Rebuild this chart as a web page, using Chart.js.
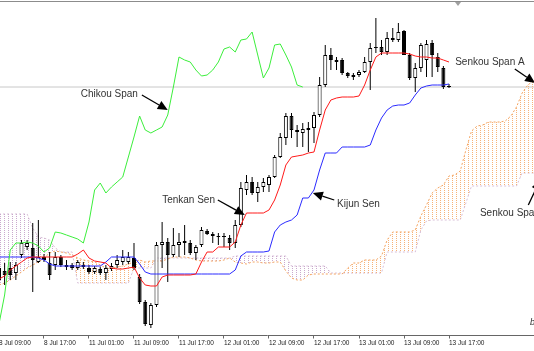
<!DOCTYPE html>
<html lang="en">
<head>
<meta charset="utf-8">
<title>Ichimoku</title>
<script src="https://cdn.jsdelivr.net/npm/chart.js@4.4.1/dist/chart.umd.min.js"></script>
<style>
  html, body { margin: 0; padding: 0; background: #ffffff; overflow: hidden; }
  #caixa { position: relative; width: 534px; height: 351px; }
</style>
</head>
<body>
<div id="caixa"><canvas id="grafico" width="534" height="351" style="width:534px;height:351px"></canvas></div>
<script>
// hourly bars, bar 0 = 8 Jul 09:00, values in points
const tickBars = [0, 8, 16, 24, 32, 40, 48, 56, 64, 72, 80];
const tickLabels = ['8 Jul 09:00', '8 Jul 17:00', '11 Jul 01:00', '11 Jul 09:00', '11 Jul 17:00',
  '12 Jul 01:00', '12 Jul 09:00', '12 Jul 17:00', '13 Jul 01:00', '13 Jul 09:00', '13 Jul 17:00'];

const open = [120,129,132,127,145,153,152,138,143,137, 135,143,135,135,132,133,132,128,131,127,
  131,135,138,138,142,123,98,75,95,155, 158,145,155,159,157,147,155,169,164,163,
  164,162,157,175,210,218,207,213,215,223, 243,262,284,270,267,272,272,285,315,345,
  338,340,327,325,325,328,338,352,353,348, 362,360,369,345,322,332,340,357,343,332,314];
const high = [138,137,138,138,160,160,177,180,146,148, 148,145,140,137,140,138,135,134,133,135,
  137,145,150,148,157,126,100,97,158,178, 162,172,167,175,160,155,173,171,168,167,
  167,165,180,218,225,223,218,222,225,245, 267,287,287,275,277,278,288,323,355,352,
  343,342,328,327,330,343,357,382,360,368, 372,377,370,347,337,357,360,360,347,334,316];
const low = [113,115,120,120,142,150,108,137,138,120, 130,133,130,130,130,131,126,126,125,120,
  129,132,135,136,130,96,74,72,93,132, 118,143,143,145,145,140,153,165,157,155,
  153,150,152,173,205,205,198,208,208,222, 242,255,262,253,253,248,257,283,313,330,
  330,325,322,320,323,327,310,347,345,345, 358,358,345,320,308,328,323,323,328,311,312];
const close = [132,125,125,135,157,157,140,143,140,125, 143,135,133,132,138,135,128,132,127,132,
  134,140,143,143,132,98,76,95,155,158, 145,155,158,157,147,153,170,166,166,164,
  163,157,175,212,218,207,213,218,223,243, 263,284,270,268,271,270,285,315,345,340,
  340,327,324,323,328,338,352,353,348,362, 360,368,345,322,332,355,356,345,333,313,313];

const tenkan = [121,124,130,134,138,142,143,143,143,143, 143,143,143,143,146,150,142,139,138,137,
  132,131,131,132,133,122,115,114,114,123, 125,125,125,125,125,126,138,148,148,153,
  153,153,158,175,187,187,187,187,190,200, 215,235,243,244,245,247,248,270,290,300,
  302,303,303,303,304,315,330,343,347,347, 347,347,347,346,344,343,343,342,342,340,338];
const kijun = [143,143,143,143,143,143,143,142,140,136, 134,134,134,134,134,134,134,134,134,138,
  143,143,143,143,143,136,128,126,126,126, 126,126,126,126,126,126,126,126,126,126,
  126,126,130,144,148,148,148,148,149,168, 175,178,180,185,202,202,210,230,247,247,
  247,253,253,253,253,253,255,270,282,290, 294,295,295,297,305,312,314,315,315,315,316];
// lagging span, plotted 26 bars back
const chikou = [76,105,150,157,157,158,157,154,148,152, 168,167,165,163,161,157,178,210,217,207,
  213,218,223,243,263,284,270,267,270,273, 285,313,343,340,338,330,324,325,330,338,
  351,353,348,360,361,368,345,322,332,355, 356,345,333,315,313];
// leading spans, plotted 26 bars ahead
const spanA = [115,117,120,124,128,132,135,138,142,147, 149,148,147,145,142,140,139,138,135,132,
  132,133,134,136,138,140,138,139,139,139, 141,143,143,143,142,140,139,139,139,139,
  140,142,138,137,136,138,138,137,137,138, 138,129,122,120,120,125,126,126,126,126,
  126,126,132,137,137,140,140,140,144,160, 168,168,168,168,170,184,195,207,212,215,
  224,225,229,250,269,274,275,278,278,278, 279,284,293,307,315,319,321];
const spanB = [186,186,186,186,186,186,172,163,162,160, 152,148,148,148,117,117,117,117,117,117,
  117,117,117,117,132,132,132,132,142,142, 142,142,142,142,142,142,142,142,142,142,
  142,142,144,144,144,144,144,144,144,144, 144,144,134,134,134,134,134,134,134,127,
  127,127,127,127,127,127,127,127,127,148, 148,148,148,148,148,170,179,180,180,180,
  180,180,180,197,214,214,214,214,214,214, 214,214,214,227,227,227,227];

const notes = [
  { text: 'Chikou Span', at: [24.7, 306], align: 'right', from: [25.4, 305], to: [30.0, 290] },
  { text: 'Tenkan Sen', at: [38.4, 200], align: 'right', from: [38.9, 200], to: [43.7, 185] },
  { text: 'Kijun Sen', at: [60.1, 196], align: 'left', from: [59.6, 200], to: [55.8, 207] },
  { text: 'Senkou Span A', at: [81.1, 338], align: 'left', from: [91.7, 331], to: [95.3, 317] },
  { text: 'Senkou Span B', at: [85.5, 187], align: 'left', from: [94.1, 195], to: [96.2, 220] }
];

const orange = 'rgb(244,164,96)';
const thistle = 'rgb(216,191,216)';

function hatch(color) {
  const c = document.createElement('canvas');
  c.width = 4;
  c.height = 2;
  const g = c.getContext('2d');
  g.fillStyle = color;
  g.fillRect(0, 0, 1, 1);
  return g.createPattern(c, 'repeat');
}

const pts = arr => arr.map((v, i) => ({ x: i, y: v }));

function arrow(ctx, x1, y1, x2, y2) {
  const ang = Math.atan2(y2 - y1, x2 - x1);
  const len = 10, half = 4.5;
  const bx = x2 - Math.cos(ang) * len, by = y2 - Math.sin(ang) * len;
  ctx.beginPath();
  ctx.moveTo(x1, y1);
  ctx.lineTo(bx, by);
  ctx.stroke();
  ctx.beginPath();
  ctx.moveTo(x2, y2);
  ctx.lineTo(bx + Math.sin(ang) * half, by - Math.cos(ang) * half);
  ctx.lineTo(bx - Math.sin(ang) * half, by + Math.cos(ang) * half);
  ctx.closePath();
  ctx.fill();
}

const extras = {
  id: 'extras',
  beforeDatasetsDraw(chart) {
    const { ctx, chartArea: a, scales: { x } } = chart;
    ctx.save();
    ctx.strokeStyle = '#8c8c8c';
    ctx.lineWidth = 1;
    ctx.beginPath();
    ctx.moveTo(a.left, a.top + 0.5);
    ctx.lineTo(a.right, a.top + 0.5);
    ctx.stroke();
    const sx = x.getPixelForValue(81.6);
    ctx.fillStyle = '#a0a0a0';
    ctx.beginPath();
    ctx.moveTo(sx - 3, a.top + 1);
    ctx.lineTo(sx + 3, a.top + 1);
    ctx.lineTo(sx, a.top + 5);
    ctx.closePath();
    ctx.fill();
    ctx.restore();
  },
  afterDatasetsDraw(chart) {
    const { ctx, scales: { x, y } } = chart;
    ctx.save();
    ctx.font = '10px "Liberation Sans", Arial, sans-serif';
    ctx.textBaseline = 'middle';
    notes.forEach(n => {
      ctx.fillStyle = '#333';
      ctx.textAlign = n.align;
      ctx.fillText(n.text, x.getPixelForValue(n.at[0]), y.getPixelForValue(n.at[1]));
      ctx.strokeStyle = '#000';
      ctx.fillStyle = '#000';
      ctx.lineWidth = 1.3;
      arrow(ctx, x.getPixelForValue(n.from[0]), y.getPixelForValue(n.from[1]),
        x.getPixelForValue(n.to[0]), y.getPixelForValue(n.to[1]));
    });
    ctx.font = 'italic 9px "Liberation Sans", Arial, sans-serif';
    ctx.fillStyle = '#333';
    ctx.textAlign = 'left';
    ctx.fillText('b', x.getPixelForValue(94.4), y.getPixelForValue(78));
    ctx.restore();
  }
};

function configurar() {
  const canvas = document.getElementById('grafico');
  const last = close[close.length - 1];
  new Chart(canvas, {
    type: 'bar',
    data: {
      datasets: [
        {
          label: 'body',
          data: open.map((o, i) => ({ x: i, y: [o, close[i]] })),
          backgroundColor: open.map((o, i) => (close[i] >= o ? '#ffffff' : '#000000')),
          borderColor: '#000000',
          borderWidth: 1,
          borderSkipped: false,
          inflateAmount: 0,
          barThickness: 4,
          grouped: false,
          order: 1
        },
        {
          label: 'wick',
          data: low.map((l, i) => ({ x: i, y: [l, high[i]] })),
          backgroundColor: '#000000',
          borderWidth: 0,
          inflateAmount: 0,
          barThickness: 1,
          grouped: false,
          order: 2
        },
        { type: 'line', label: 'Tenkan Sen', data: pts(tenkan), borderColor: '#ff1a1a', borderWidth: 1, pointRadius: 0, fill: false, order: -2 },
        { type: 'line', label: 'Kijun Sen', data: pts(kijun), borderColor: '#2b2bff', borderWidth: 1, pointRadius: 0, fill: false, order: -1 },
        { type: 'line', label: 'Chikou Span', data: pts(chikou), borderColor: '#3cee3c', borderWidth: 1, pointRadius: 0, fill: false, order: -3 },
        {
          type: 'line', label: 'Senkou Span A', data: pts(spanA), borderColor: orange, borderWidth: 1,
          borderDash: [2, 2], pointRadius: 0, order: 5,
          fill: { target: 6, above: hatch('rgba(244,164,96,0.85)'), below: hatch('rgba(196,160,200,0.9)') }
        },
        { type: 'line', label: 'Senkou Span B', data: pts(spanB), borderColor: thistle, borderWidth: 1, borderDash: [2, 2], pointRadius: 0, fill: false, order: 6 },
        { type: 'line', label: 'price', data: [{ x: 0, y: last }, { x: spanA.length, y: last }], borderColor: '#c8c8c8', borderWidth: 1, pointRadius: 0, fill: false, order: 7 }
      ]
    },
    options: {
      responsive: false,
      animation: false,
      devicePixelRatio: 1,
      events: [],
      layout: { padding: { top: 1, left: 0, right: 0, bottom: 0 } },
      plugins: { legend: { display: false }, tooltip: { enabled: false } },
      scales: {
        x: {
          type: 'linear',
          min: 0.18,
          max: 95.11,
          offset: false,
          grid: { offset: false, drawOnChartArea: false, drawTicks: true, tickLength: 3, color: '#666666' },
          border: { display: true, color: '#666666' },
          ticks: {
            autoSkip: false, maxRotation: 0, minRotation: 0, align: 'start', padding: 1,
            color: '#222222', font: { family: '"Liberation Sans", Arial, sans-serif', size: 6.5 },
            callback: (v, i) => tickLabels[i]
          },
          afterBuildTicks: s => { s.ticks = tickBars.map(v => ({ value: v })); },
          afterFit: s => { s.paddingLeft = 0; s.paddingRight = 0; s.height = 15.5; }
        },
        y: { type: 'linear', display: false, min: 64.5, max: 399 }
      }
    },
    plugins: [extras]
  });
}

document.addEventListener('DOMContentLoaded', configurar);
</script>
</body>
</html>
